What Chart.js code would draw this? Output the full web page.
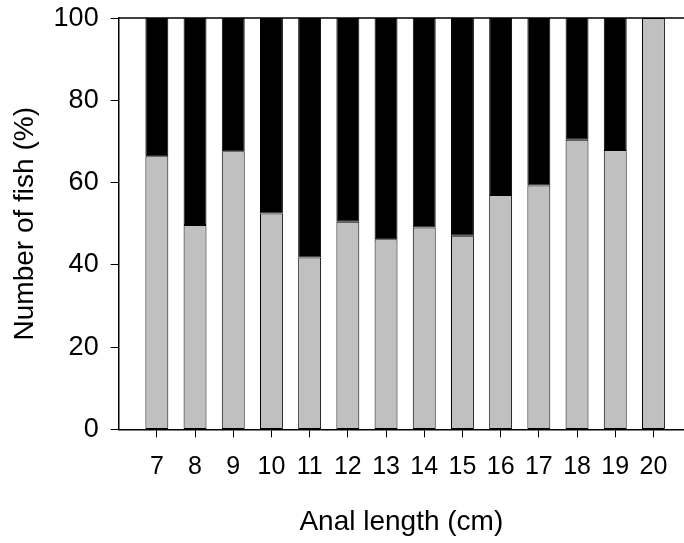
<!DOCTYPE html>
<html>
<head>
<meta charset="utf-8">
<script src="https://cdn.jsdelivr.net/npm/chart.js@4"></script>
<style>
  html, body { margin: 0; padding: 0; background: #fff; }
  #wrap { width: 684px; height: 543px; }
</style>
</head>
<body>
<div id="wrap"><canvas id="fishChart"></canvas></div>
<script>
// anal length classes (cm)
const lengths = [7, 8, 9, 10, 11, 12, 13, 14, 15, 16, 17, 18, 19, 20];
// grey part of each bar (%)
const greyShare = [66.4, 49.7, 67.6, 52.5, 41.8, 50.5, 46.2, 49.1, 47.1, 57.0, 59.3, 70.4, 67.9, 100];
// black part of each bar (%)
const blackShare = [33.6, 50.3, 32.4, 47.5, 58.2, 49.5, 53.8, 50.9, 52.9, 43.0, 40.7, 29.6, 32.1, 0];
const yTicks = [0, 20, 40, 60, 80, 100];

const fam = 'Liberation Sans, Arial, sans-serif';

// top frame line across the whole plot
const topLine = {
    id: 'topLine',
    afterDraw(chart) {
        const { ctx, chartArea } = chart;
        ctx.save();
        ctx.strokeStyle = '#000';
        ctx.lineWidth = 1.5;
        ctx.beginPath();
        ctx.moveTo(chartArea.left, chartArea.top);
        ctx.lineTo(chartArea.right, chartArea.top);
        ctx.stroke();
        ctx.restore();
    }
};

new Chart(document.getElementById('fishChart'), {
    type: 'bar',
    data: {
        datasets: [
            {
                label: 'grey',
                data: lengths.map((x, i) => ({ x: x, y: greyShare[i] })),
                backgroundColor: '#c0c0c0',
                borderColor: '#000',
                borderWidth: 1,
                borderSkipped: false,
                barPercentage: 0.6,
                categoryPercentage: 1
            },
            {
                label: 'black',
                data: lengths.map((x, i) => ({ x: x, y: blackShare[i] })),
                backgroundColor: '#000',
                borderColor: '#000',
                borderWidth: 1,
                borderSkipped: false,
                barPercentage: 0.6,
                categoryPercentage: 1
            }
        ]
    },
    options: {
        responsive: true,
        maintainAspectRatio: false,
        animation: false,
        layout: { padding: { top: 0, right: 0, left: 8, bottom: 4 } },
        plugins: {
            legend: { display: false },
            tooltip: { enabled: false }
        },
        scales: {
            x: {
                type: 'linear',
                stacked: true,
                offset: false,
                min: 6,
                max: 20.8,
                afterBuildTicks: s => { s.ticks = lengths.map(v => ({ value: v })); },
                grid: { offset: false, drawOnChartArea: false, drawTicks: true, tickLength: 8, color: '#000' },
                border: { color: '#000', width: 1.5 },
                ticks: { color: '#000', font: { family: fam, size: 25 }, padding: 15, maxRotation: 0, autoSkip: false },
                title: { display: true, text: 'Anal length (cm)', color: '#000', font: { family: fam, size: 28 }, padding: { top: 8, bottom: 0 } }
            },
            y: {
                stacked: true,
                min: 0,
                max: 100,
                afterBuildTicks: s => { s.ticks = yTicks.map(v => ({ value: v })); },
                grid: { drawOnChartArea: false, drawTicks: true, tickLength: 8, color: '#000' },
                border: { color: '#000', width: 1.5 },
                // small lineHeight keeps the top label from pushing the plot down
                ticks: { color: '#000', font: { family: fam, size: 27, lineHeight: 0.45 }, padding: 12, autoSkip: false },
                title: { display: true, text: 'Number of fish (%)', color: '#000', font: { family: fam, size: 28 }, padding: { top: 0, bottom: 0 } }
            }
        }
    },
    plugins: [topLine]
});
</script>
</body>
</html>
